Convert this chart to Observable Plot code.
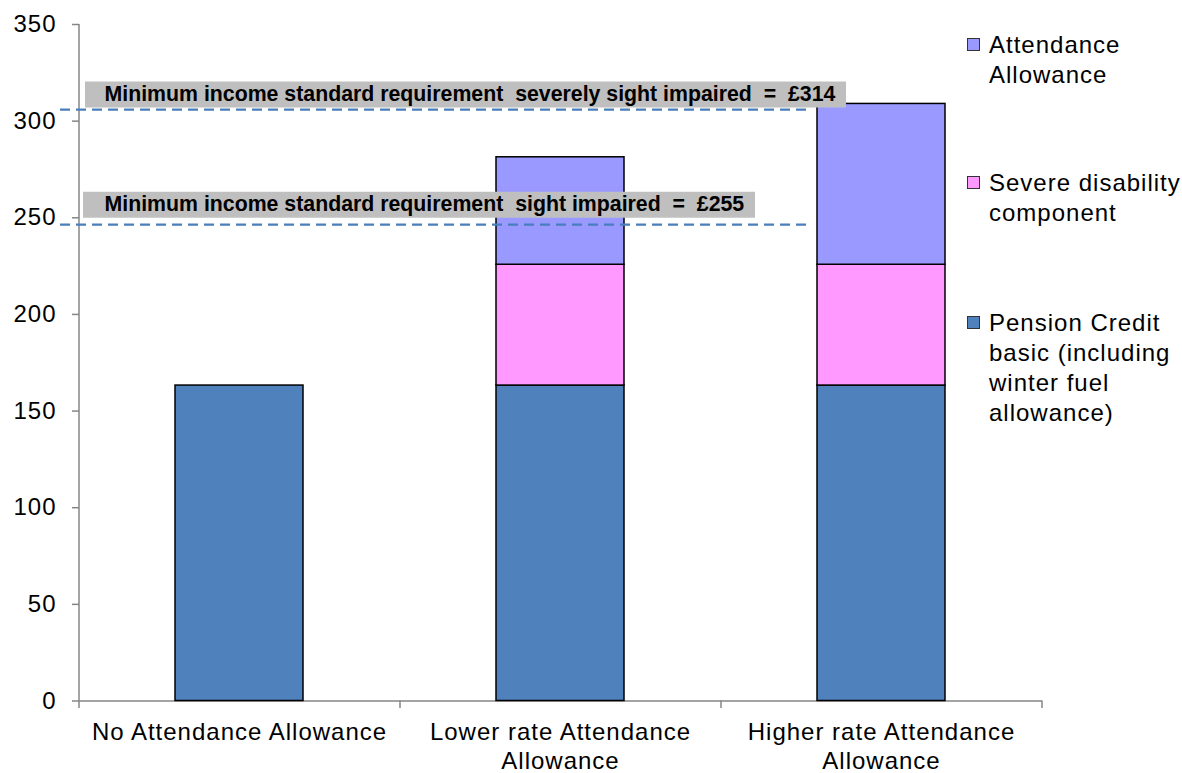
<!DOCTYPE html>
<html><head><meta charset="utf-8">
<script src="https://cdn.jsdelivr.net/npm/d3@7"></script>
<script src="https://cdn.jsdelivr.net/npm/@observablehq/plot@0.6"></script>
<style>
body{margin:0;background:#fff;}
#wrap{position:relative;width:1182px;height:773px;font-family:"Liberation Sans",Arial,sans-serif;}
#wrap svg text{letter-spacing:1px;white-space:pre;}
#wrap svg g[font-weight="bold"] text{letter-spacing:0;}
.legend{position:absolute;left:967px;top:0;font-size:24px;line-height:30px;color:#000;letter-spacing:1px;}
.item{position:absolute;left:0;white-space:nowrap;}
.sw{position:absolute;left:0;top:8px;width:11px;height:11px;border:1.5px solid #333;}
.txt{position:absolute;left:22px;top:0;}
</style></head><body><div id="wrap"></div>
<script>
const categories = ["No Attendance Allowance", "Lower rate Attendance Allowance", "Higher rate Attendance Allowance"];
const tickLabels = ["No Attendance Allowance", "Lower rate Attendance\nAllowance", "Higher rate Attendance\nAllowance"];
const seriesNames = ["Pension Credit basic (including winter fuel allowance)", "Severe disability component", "Attendance Allowance"];
const legendLines = [["Pension Credit", "basic (including", "winter fuel", "allowance)"], ["Severe disability", "component"], ["Attendance", "Allowance"]];
const seriesColors = ["#4f81bd", "#ff99ff", "#9999ff"];
const pensionCredit = [163.2, 163.2, 163.2];
const severeDisability = [0, 62.5, 62.5];
const attendanceAllowance = [0, 55.6, 83.2];
const yTicks = [0, 50, 100, 150, 200, 250, 300, 350];
const misLabels = ["Minimum income standard requirement  severely sight impaired  =  £314", "Minimum income standard requirement  sight impaired  =  £255"];
const misLineY = [306, 246.5];
const misBoxY = [313.8, 256.8];

const seriesValues = [pensionCredit, severeDisability, attendanceAllowance];
const rows = [];
categories.forEach((c, i) => seriesNames.forEach((s, j) => {
  if (seriesValues[j][i] > 0) rows.push({cat: c, series: s, value: seriesValues[j][i]});
}));

const W = 1182, H = 773, ML = 79, MR = 140, MT = 24, MB = 72.5;
const step = (W - ML - MR) / categories.length;
const gray = "#868686";

const chart = Plot.plot({
  width: W, height: H,
  marginLeft: ML, marginRight: MR, marginTop: MT, marginBottom: MB,
  style: {fontFamily: "Liberation Sans, Arial, sans-serif", fontSize: "24px", color: "black", background: "white", overflow: "visible"},
  x: {domain: categories, paddingInner: 0.6, paddingOuter: 0.3, label: null},
  y: {domain: [0, 350], label: null},
  color: {domain: seriesNames, range: seriesColors},
  marks: [
    Plot.ruleY([0], {stroke: gray, strokeWidth: 1.5}),
    Plot.ruleX([categories[0]], {y1: 0, y2: yTicks[yTicks.length - 1], dx: -step / 2, stroke: gray, strokeWidth: 1.5}),
    Plot.ruleX(categories, {x: d => d, y1: 0, y2: 0, dx: -step / 2, insetBottom: -7.5, stroke: gray, strokeWidth: 1.5}),
    Plot.ruleX([categories[categories.length - 1]], {y1: 0, y2: 0, dx: step / 2, insetBottom: -7.5, stroke: gray, strokeWidth: 1.5}),
    Plot.axisY({ticks: yTicks, tickSize: 7, tickPadding: 16, stroke: gray, strokeWidth: 1.5, fill: "black", label: null}),
    Plot.axisX({tickSize: 0, tickPadding: 19, lineHeight: 1.2, fill: "black", label: null,
      tickFormat: d => tickLabels[categories.indexOf(d)]}),
    Plot.barY(rows, {x: "cat", y: "value", fill: "series", stroke: "black", strokeWidth: 1.5}),
    Plot.ruleY(misLineY, {stroke: "#4a7ebb", strokeWidth: 2.2, strokeDasharray: "10,6", insetLeft: -19, insetRight: 230}),
    Plot.ruleY([misBoxY[0]], {stroke: "#bfbfbf", strokeWidth: 26, insetLeft: 6, insetRight: 196}),
    Plot.ruleY([misBoxY[1]], {stroke: "#bfbfbf", strokeWidth: 26, insetLeft: 4, insetRight: 287}),
    Plot.text(misLabels, {y: (d, i) => misBoxY[i], text: d => d, frameAnchor: "left", dx: 25, textAnchor: "start", fontWeight: "bold", fontSize: 21.3, fill: "black"})
  ]
});

const wrap = document.getElementById("wrap");
wrap.appendChild(chart);

const legend = document.createElement("div");
legend.className = "legend";
const tops = [308, 168, 30];
[2, 1, 0].forEach(j => {
  const item = document.createElement("div");
  item.className = "item";
  item.style.top = tops[j] + "px";
  const sw = document.createElement("div");
  sw.className = "sw";
  sw.style.background = seriesColors[j];
  const txt = document.createElement("div");
  txt.className = "txt";
  txt.innerHTML = legendLines[j].join("<br>");
  item.appendChild(sw); item.appendChild(txt);
  legend.appendChild(item);
});
wrap.appendChild(legend);
</script>
</body></html>
